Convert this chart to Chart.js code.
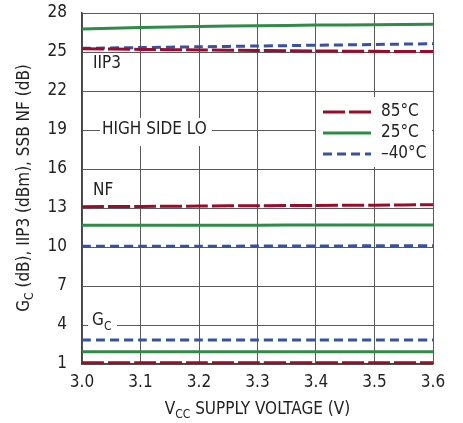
<!DOCTYPE html>
<html lang="en">
<head>
  <meta charset="UTF-8">
  <title>Gc, IIP3, NF vs Supply Voltage</title>
  <script src="https://cdn.jsdelivr.net/npm/chart.js"></script>
  <style>
    body { margin: 0; background: #fff; }
  </style>
</head>
<body>
  <canvas id="chart" width="463" height="423"></canvas>

  <script>
    // supply voltage (V)
    const voltages = [3.0, 3.1, 3.2, 3.3, 3.4, 3.5, 3.6];

    // IIP3 (dBm)
    const iip3Hot  = [25.25, 25.2, 25.16, 25.12, 25.08, 25.05, 25.03];
    const iip3Room = [26.77, 26.88, 26.96, 27.02, 27.07, 27.1, 27.13];
    const iip3Cold = [25.28, 25.34, 25.4, 25.46, 25.52, 25.58, 25.64];

    // SSB NF (dB)
    const nfHot  = [13.1, 13.12, 13.15, 13.18, 13.2, 13.22, 13.25];
    const nfRoom = [11.67, 11.67, 11.68, 11.68, 11.69, 11.7, 11.7];
    const nfCold = [10.05, 10.05, 10.06, 10.07, 10.08, 10.09, 10.1];

    // conversion gain (dB)
    const gcHot  = [1.1, 1.1, 1.1, 1.1, 1.1, 1.1, 1.1];
    const gcRoom = [1.95, 1.95, 1.95, 1.95, 1.95, 1.95, 1.95];
    const gcCold = [2.85, 2.85, 2.85, 2.85, 2.85, 2.85, 2.85];

    const tempLabels = ['85°C', '25°C', '–40°C'];

    const FONT = '"Liberation Sans Narrow", "DejaVu Sans Condensed", sans-serif';
    const TXT = '#222';
    const RED = '#9a0b2c';
    const GREEN = '#2f8b47';
    const BLUE = '#3752a2';

    const styles = [
      { color: RED, dash: [22, 4] },
      { color: GREEN, dash: [] },
      { color: BLUE, dash: [9, 5] }
    ];

    function series(vals, s) {
      return {
        data: vals.map((v, i) => ({ x: voltages[i], y: v })),
        borderColor: s.color,
        borderDash: s.dash,
        borderWidth: 3,
        pointRadius: 0,
        fill: false,
        tension: 0.3
      };
    }

    const groups = [
      [iip3Hot, iip3Room, iip3Cold],
      [nfHot, nfRoom, nfCold],
      [gcHot, gcRoom, gcCold]
    ];
    const datasets = [];
    groups.forEach(g => g.forEach((vals, i) => datasets.push(series(vals, styles[i]))));

    // draws labels, legend and the axis titles (which need subscripts)
    const annotations = {
      id: 'annotations',
      beforeDatasetsDraw(chart) {
        const c = chart.ctx;
        const x = chart.scales.x, y = chart.scales.y;
        c.save();

        // white boxes over the grid
        c.fillStyle = '#fff';
        c.fillRect(316, 97, 116, 70);
        c.fillRect(100, 118, 112, 28);
        c.fillRect(88, y.getPixelForValue(4) - 8, 29, 16);

        c.fillStyle = TXT;
        c.textBaseline = 'middle';
        c.textAlign = 'left';
        c.font = '17px ' + FONT;
        c.fillText('HIGH SIDE LO', 102, y.getPixelForValue(19));
        c.fillText('IIP3', 93, 64);
        c.fillText('NF', 93, 191);
        c.fillText('G', 92, 321);
        c.font = '12px ' + FONT;
        c.fillText('C', 104, 327);

        // legend
        c.font = '17px ' + FONT;
        const rows = [112, 133, 154];
        rows.forEach((ry, i) => {
          c.strokeStyle = styles[i].color;
          c.lineWidth = 3;
          c.setLineDash(styles[i].dash);
          c.beginPath();
          c.moveTo(323, ry);
          c.lineTo(371, ry);
          c.stroke();
          c.fillText(tempLabels[i], 381, ry);
        });
        c.setLineDash([]);

        // x title
        const xc = (x.left + x.right) / 2;
        const ty = 410;
        c.font = '17px ' + FONT;
        const w1 = c.measureText('V').width;
        c.font = '12px ' + FONT;
        const w2 = c.measureText('CC').width;
        c.font = '17px ' + FONT;
        const w3 = c.measureText(' SUPPLY VOLTAGE (V)').width;
        let tx = xc - (w1 + w2 + w3) / 2;
        c.fillText('V', tx, ty);
        c.font = '12px ' + FONT;
        c.fillText('CC', tx + w1, ty + 5);
        c.font = '17px ' + FONT;
        c.fillText(' SUPPLY VOLTAGE (V)', tx + w1 + w2, ty);

        // y title
        c.translate(25, 188);
        c.rotate(-Math.PI / 2);
        const a = c.measureText('G').width;
        c.font = '12px ' + FONT;
        const b = c.measureText('C').width;
        c.font = '17px ' + FONT;
        const rest = ' (dB), IIP3 (dBm), SSB NF (dB)';
        const d = c.measureText(rest).width;
        let sx = -(a + b + d) / 2;
        c.fillText('G', sx, 0);
        c.font = '12px ' + FONT;
        c.fillText('C', sx + a, 5);
        c.font = '17px ' + FONT;
        c.fillText(rest, sx + a + b, 0);

        c.restore();
      }
    };

    new Chart(document.getElementById('chart').getContext('2d'), {
      type: 'line',
      data: { datasets },
      plugins: [annotations],
      options: {
        responsive: false,
        animation: false,
        layout: { padding: { top: 13, right: 30, left: 0, bottom: 0 } },
        plugins: { legend: { display: false }, tooltip: { enabled: false } },
        scales: {
          x: {
            type: 'linear',
            min: 3.0,
            max: 3.6,
            afterFit: s => { s.height = 59; },
            ticks: {
              stepSize: 0.1,
              callback: v => v.toFixed(1),
              font: { family: FONT, size: 17 },
              color: TXT,
              padding: 8,
              maxRotation: 0
            },
            grid: { color: '#5a5a5a', lineWidth: 1, drawTicks: false },
            border: { color: '#444', width: 1.5 }
          },
          y: {
            min: 1,
            max: 28,
            afterFit: s => { s.width = 82; s.paddingTop = 0; s.paddingBottom = 0; },
            ticks: {
              stepSize: 3,
              font: { family: FONT, size: 17 },
              color: TXT,
              padding: 15
            },
            grid: { color: '#5a5a5a', lineWidth: 1, drawTicks: false },
            border: { color: '#444', width: 1.5 }
          }
        }
      }
    });
  </script>
</body>
</html>
